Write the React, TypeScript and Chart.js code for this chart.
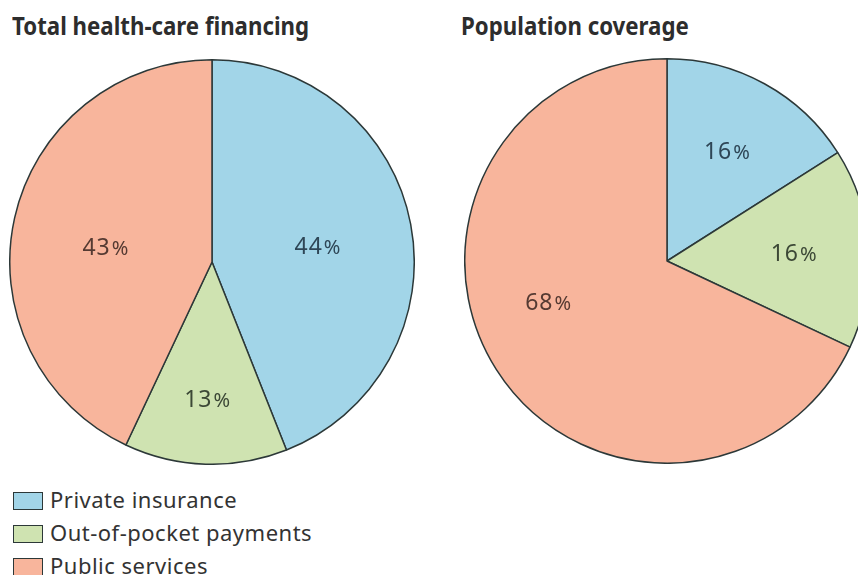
import React, { useEffect, useRef } from "react";
import { Chart, registerables } from "chart.js";

Chart.register(...registerables);

const categories = ["Private insurance", "Out-of-pocket payments", "Public services"];
const financingValues = [44, 13, 43];
const coverageValues = [16, 16, 68];
const chartTitles = ["Total health-care financing", "Population coverage"];

const COLORS = ["#a2d5e8", "#cfe3b1", "#f8b59c"];
const LABEL_COLORS = ["#2e4656", "#3c4836", "#553a32"];
const BORDER = "#2c3838";
const FONT = "'Noto Sans', sans-serif";

const labelPlugin = {
  id: "sliceLabels",
  afterDatasetsDraw(chart: any, _args: any, opts: any) {
    const ctx = chart.ctx;
    const meta = chart.getDatasetMeta(0);
    const values = chart.data.datasets[0].data as number[];
    const fracs: number[] = opts.fracs || [];
    meta.data.forEach((arc: any, i: number) => {
      const { x, y, startAngle, endAngle, outerRadius } = arc.getProps(
        ["x", "y", "startAngle", "endAngle", "outerRadius"],
        true
      );
      const mid = (startAngle + endAngle) / 2 + (opts.angleShift?.[i] || 0);
      const r = outerRadius * (fracs[i] ?? 0.6);
      const cx = x + Math.cos(mid) * r;
      const cy = y + Math.sin(mid) * r;
      const num = String(values[i]);
      ctx.save();
      ctx.fillStyle = LABEL_COLORS[i];
      ctx.textBaseline = "alphabetic";
      (ctx as any).letterSpacing = "1px";
      ctx.font = `23px ${FONT}`;
      const wNum = ctx.measureText(num).width + 1;
      ctx.font = `20px ${FONT}`;
      const wPct = ctx.measureText("%").width;
      const total = wNum + wPct;
      const left = cx - total / 2;
      ctx.font = `23px ${FONT}`;
      ctx.fillText(num, left, cy + 8);
      ctx.font = `20px ${FONT}`;
      ctx.fillText("%", left + wNum, cy + 8);
      ctx.restore();
    });
  },
};

function Pie({ values, left, top, size, fracs, angleShift }: any) {
  const ref = useRef<HTMLCanvasElement>(null);
  useEffect(() => {
    if (!ref.current) return;
    const chart = new Chart(ref.current, {
      type: "pie",
      data: {
        labels: categories,
        datasets: [
          {
            data: values,
            backgroundColor: COLORS,
            borderColor: BORDER,
            borderWidth: 1.5,
          },
        ],
      },
      options: {
        responsive: false,
        animation: false,
        layout: { padding: 0 },
        plugins: {
          legend: { display: false },
          tooltip: { enabled: false },
          sliceLabels: { fracs, angleShift },
        } as any,
      },
      plugins: [labelPlugin],
    });
    return () => chart.destroy();
  }, []);
  return (
    <canvas
      ref={ref}
      width={size}
      height={size}
      style={{ position: "absolute", left, top, width: size, height: size }}
    />
  );
}

const titleStyle: React.CSSProperties = {
  position: "absolute",
  top: 8,
  fontSize: 25,
  lineHeight: "34px",
  fontWeight: 700,
  whiteSpace: "nowrap",
  transform: "scaleX(0.89)",
  transformOrigin: "left top",
  color: "#2d2d2d",
};

export default function App() {
  return (
    <div
      style={{
        position: "fixed",
        left: 0,
        top: 0,
        width: 858,
        height: 575,
        overflow: "hidden",
        background: "#fff",
        fontFamily: FONT,
        color: "#2f2f2f",
      }}
    >
      <div style={{ ...titleStyle, left: 12 }}>{chartTitles[0]}</div>
      <div style={{ ...titleStyle, left: 461 }}>{chartTitles[1]}</div>
      <Pie values={financingValues} left={9} top={59} size={406} fracs={[0.53, 0.68, 0.53]} angleShift={[0.04, 0, -0.08]} />
      <Pie values={coverageValues} left={464} top={58} size={406} fracs={[0.62, 0.63, 0.62]} angleShift={[0, 0, 0.23]} />
      {categories.map((c, i) => (
        <React.Fragment key={c}>
          <span
            style={{
              position: "absolute",
              left: 13,
              top: 492 + i * 33,
              width: 30,
              height: 18,
              boxSizing: "border-box",
              background: COLORS[i],
              border: `1.5px solid ${BORDER}`,
            }}
          />
          <span
            style={{
              position: "absolute",
              left: 50,
              top: 486 + i * 33,
              fontSize: 22,
              lineHeight: "26px",
              letterSpacing: 0.5,
              whiteSpace: "nowrap",
              color: "#333",
            }}
          >
            {c}
          </span>
        </React.Fragment>
      ))}
    </div>
  );
}
